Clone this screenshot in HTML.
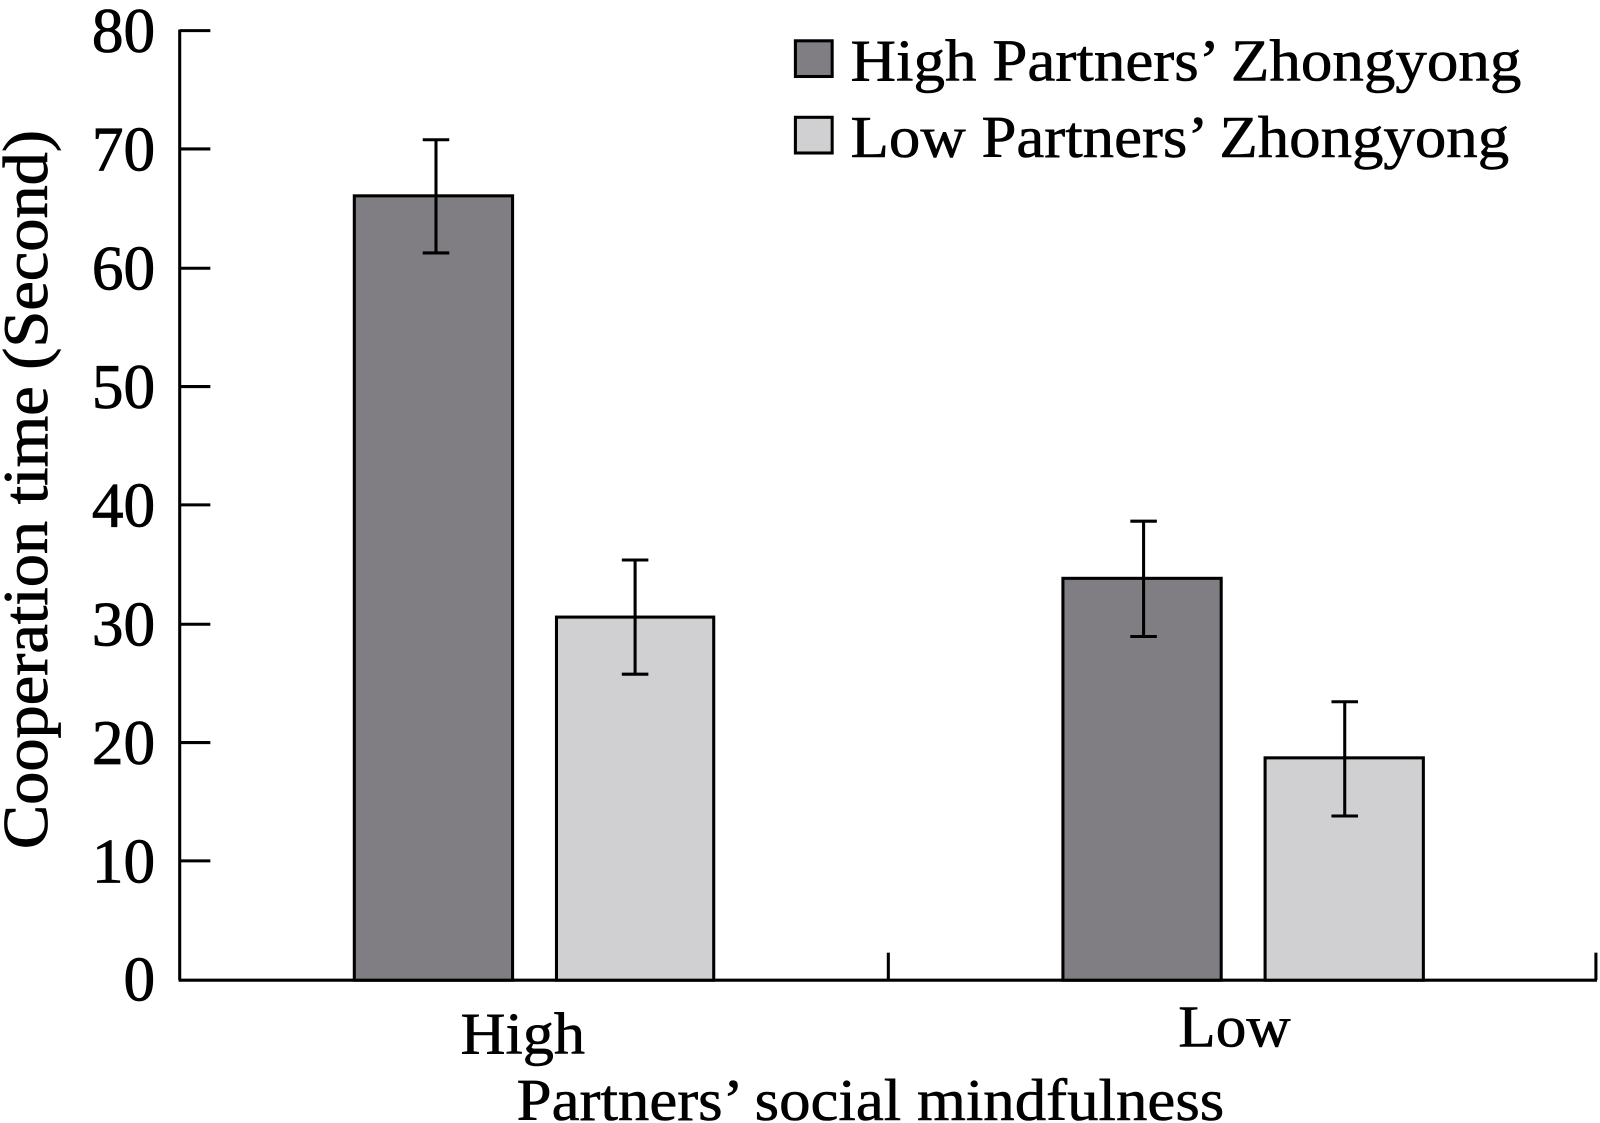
<!DOCTYPE html>
<html><head><meta charset="utf-8"><style>html,body{margin:0;padding:0;background:#fff}svg{display:block}</style></head>
<body>
<svg width="1600" height="1123" viewBox="0 0 1567 1101" preserveAspectRatio="none" xmlns="http://www.w3.org/2000/svg" font-family="Liberation Serif, serif" fill="#000">
<g stroke="#000" stroke-width="3" fill="none">
<line x1="176" y1="29" x2="176" y2="961"/>
<line x1="175" y1="961" x2="1564" y2="961"/>
<line x1="176" y1="30" x2="206" y2="30"/>
<line x1="176" y1="146" x2="206" y2="146"/>
<line x1="176" y1="263" x2="206" y2="263"/>
<line x1="176" y1="379" x2="206" y2="379"/>
<line x1="176" y1="495" x2="206" y2="495"/>
<line x1="176" y1="612" x2="206" y2="612"/>
<line x1="176" y1="728" x2="206" y2="728"/>
<line x1="176" y1="844" x2="206" y2="844"/>
<line x1="870" y1="934" x2="870" y2="961"/>
<line x1="1563" y1="934" x2="1563" y2="961"/>
</g>
<g stroke="#000" stroke-width="3">
<rect x="347" y="192" width="155" height="769" fill="#807e83"/>
<rect x="545" y="605" width="154" height="356" fill="#d0d0d2"/>
<rect x="1041" y="567" width="155" height="394" fill="#807e83"/>
<rect x="1239" y="743" width="155" height="218" fill="#d0d0d2"/>
<rect x="779" y="40" width="36" height="35" fill="#807e83"/>
<rect x="779" y="115" width="36" height="35" fill="#d0d0d2"/>
</g>
<g stroke="#000" stroke-width="3">
<line x1="427" y1="137" x2="427" y2="248"/><line x1="414" y1="137" x2="440" y2="137"/><line x1="414" y1="248" x2="440" y2="248"/>
<line x1="622" y1="549" x2="622" y2="661"/><line x1="609" y1="549" x2="635" y2="549"/><line x1="609" y1="661" x2="635" y2="661"/>
<line x1="1120" y1="511" x2="1120" y2="624"/><line x1="1107" y1="511" x2="1133" y2="511"/><line x1="1107" y1="624" x2="1133" y2="624"/>
<line x1="1317" y1="688" x2="1317" y2="800"/><line x1="1304" y1="688" x2="1330" y2="688"/><line x1="1304" y1="800" x2="1330" y2="800"/>
</g>
<g font-size="62" text-anchor="end" stroke="#000" stroke-width="0.8">
<text x="152" y="51" textLength="62" lengthAdjust="spacingAndGlyphs">80</text>
<text x="152" y="167" textLength="62" lengthAdjust="spacingAndGlyphs">70</text>
<text x="152" y="284" textLength="62" lengthAdjust="spacingAndGlyphs">60</text>
<text x="152" y="400" textLength="62" lengthAdjust="spacingAndGlyphs">50</text>
<text x="152" y="516" textLength="62" lengthAdjust="spacingAndGlyphs">40</text>
<text x="152" y="633" textLength="62" lengthAdjust="spacingAndGlyphs">30</text>
<text x="152" y="749" textLength="62" lengthAdjust="spacingAndGlyphs">20</text>
<text x="152" y="865" textLength="62" lengthAdjust="spacingAndGlyphs">10</text>
<text x="152" y="981" textLength="31" lengthAdjust="spacingAndGlyphs">0</text>
</g>
<g font-size="58" stroke="#000" stroke-width="0.6">
<text x="833" y="79" textLength="657" lengthAdjust="spacingAndGlyphs">High Partners’ Zhongyong</text>
<text x="833" y="154" textLength="645" lengthAdjust="spacingAndGlyphs">Low Partners’ Zhongyong</text>
<text x="451" y="1033" textLength="122" lengthAdjust="spacingAndGlyphs">High</text>
<text x="1154" y="1026" textLength="110" lengthAdjust="spacingAndGlyphs">Low</text>
<text x="506" y="1098" textLength="693" lengthAdjust="spacingAndGlyphs">Partners’ social mindfulness</text>
</g>
<text transform="translate(46,480) rotate(-90)" text-anchor="middle" font-size="62" stroke="#000" stroke-width="0.8" textLength="705" lengthAdjust="spacingAndGlyphs">Cooperation time (Second)</text>
</svg>
</body></html>
